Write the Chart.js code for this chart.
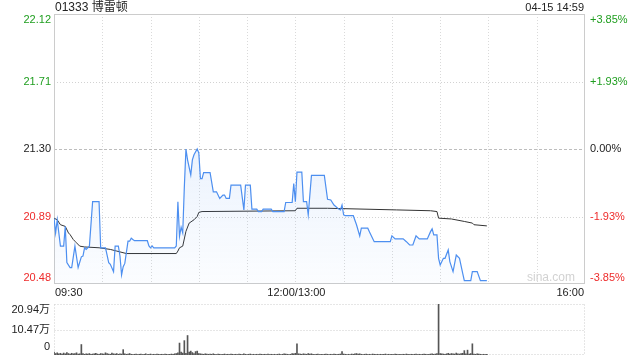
<!DOCTYPE html>
<html><head><meta charset="utf-8">
<script src="https://cdn.jsdelivr.net/npm/chart.js@4.4.1/dist/chart.umd.min.js"></script>
<style>
html,body{margin:0;padding:0;background:#fff;width:640px;height:360px;overflow:hidden}
#w1{position:absolute;left:0;top:0;width:640px;height:300px}
#w2{position:absolute;left:0;top:296px;width:640px;height:64px}
canvas{display:block}
</style></head><body>
<div id="w1"><canvas id="c1" width="640" height="300"></canvas></div>
<div id="w2"><canvas id="c2" width="640" height="64"></canvas></div>
<script>
// ---- texts / ticks ----
const titleText = '01333 博雷顿';
const stampText = '04-15 14:59';
const prevClose = 21.30;
const priceTicks = [22.12, 21.71, 21.30, 20.89, 20.48];
const pctTicks = ['+3.85%', '+1.93%', '0.00%', '-1.93%', '-3.85%'];
const gridMinutes = [0, 30, 60, 90, 120, 150, 180, 210, 240, 270, 300, 330];
const timeLabelMinutes = [0, 150, 330];
const timeLabelTexts = ['09:30', '12:00/13:00', '16:00'];
const volTicks = [209400, 104700, 0];
const volTickLabels = ['20.94万', '10.47万', '0'];

// ---- price series (trading minutes since 09:30; 150 = 13:00) ----
const priceMinutes = [
  0,1,2,4,6,7,8,10,11,13,
  15,17,18,19,20,21,22,24,28,29,
  32,33,34,35,37,38,40,41,42,43,
  44,46,47,48,49,50,58,59,60,61,
  62,75,76,77,78,79,80,81,82,83,
  85,86,87,89,90,91,92,93,97,99,
  101,103,105,106,107,109,110,116,118,119,
  122,123,126,127,129,130,135,136,143,144,
  148,149,150,151,154,155,157,158,160,168,
  170,172,174,177,178,179,180,181,186,188,
  190,191,195,196,199,209,210,212,217,219,
  221,223,225,227,232,234,235,236,238,239,
  240,242,243,245,246,248,250,252,254,255,
  259,260,263,265,269];
const prices = [
  20.88,20.79,20.87,20.71,20.71,20.83,20.61,20.58,20.58,20.71,
  20.58,20.645,20.65,20.70,20.69,20.70,20.71,20.98,20.98,20.70,
  20.70,20.655,20.61,20.60,20.555,20.71,20.71,20.65,20.535,20.585,
  20.605,20.74,20.74,20.758,20.75,20.743,20.743,20.711,20.70,20.711,
  20.70,20.70,20.711,20.98,20.77,20.825,20.79,21.07,21.30,21.234,
  21.143,21.234,21.265,21.30,21.275,21.12,21.12,21.157,21.157,21.04,
  21.04,21.00,21.02,21.02,21.00,21.00,21.08,21.08,20.93,21.08,
  21.08,20.935,20.935,20.92,20.92,20.935,20.935,20.92,20.92,20.975,
  20.975,21.09,20.98,21.16,21.16,20.98,20.98,20.90,21.14,21.14,
  20.995,20.99,20.96,20.935,20.93,20.96,20.90,20.895,20.895,20.84,
  20.772,20.819,20.819,20.798,20.737,20.737,20.772,20.754,20.754,20.737,
  20.717,20.717,20.772,20.754,20.754,20.798,20.815,20.778,20.778,20.636,
  20.596,20.636,20.636,20.687,20.616,20.555,20.656,20.636,20.545,20.50,
  20.50,20.555,20.555,20.50,20.50];

const avgMinutes = [
  0,2,4,7,9,10,12,13,14,16,
  19,28,35,39,41,45,76,77,78,80,
  82,84,87,89,90,92,150,151,170,213,
  234,238,239,247,255,260,261,269];
const avgPrices = [
  20.88,20.87,20.84,20.83,20.79,20.78,20.75,20.74,20.73,20.71,
  20.705,20.70,20.69,20.68,20.675,20.665,20.665,20.68,20.70,20.71,
  20.80,20.85,20.87,20.89,20.915,20.92,20.925,20.94,20.94,20.93,
  20.925,20.92,20.88,20.875,20.86,20.85,20.84,20.833];

// ---- volume per minute (shares), index = trading minute ----
const volumes = [
  12000,6000,9000,5000,7000,4000,8000,5000,10000,6000,
  4000,7000,5000,6000,9000,4000,5000,43000,6000,3000,
  5000,4000,6000,3000,4000,5000,7000,4000,3000,6000,
  5000,4000,9000,6000,4000,3000,8000,5000,4000,6000,
  3000,5000,4000,22000,5000,3000,4000,6000,3000,2000,
  3000,4000,2000,3000,4000,2000,3000,5000,2000,3000,
  4000,2000,3000,2000,4000,3000,2000,3000,2000,4000,
  3000,2000,3000,4000,3000,5000,6000,9000,49000,12000,
  8000,59000,7000,80000,12000,16000,10000,6000,14000,16000,
  6000,5000,4000,3000,5000,4000,3000,4000,3000,5000,
  3000,2000,4000,3000,2000,3000,4000,2000,3000,2000,
  4000,3000,2000,3000,2000,4000,3000,2000,5000,3000,
  2000,3000,4000,2000,3000,2000,3000,2000,4000,3000,
  2000,3000,2000,4000,2000,3000,2000,3000,2000,3000,
  4000,2000,3000,5000,4000,3000,2000,3000,6000,5000,
  7000,46000,5000,4000,3000,5000,4000,3000,6000,4000,
  5000,3000,2000,3000,4000,2000,3000,2000,3000,4000,
  3000,2000,3000,2000,4000,3000,2000,3000,4000,14000,
  4000,3000,2000,3000,2000,4000,3000,5000,6000,4000,
  5000,3000,2000,3000,4000,2000,3000,2000,4000,3000,
  2000,3000,2000,3000,2000,3000,4000,2000,3000,2000,
  3000,2000,4000,3000,2000,3000,2000,3000,2000,4000,
  3000,2000,3000,2000,3000,4000,2000,3000,2000,3000,
  4000,3000,2000,3000,4000,5000,3000,4000,6000,209400,
  6000,5000,4000,3000,5000,7000,4000,6000,5000,4000,
  8000,5000,4000,6000,7000,18000,5000,20000,4000,6000,
  46000,4000,3000,5000,4000,3000,2000,3000,2000,3000];

// ---- styles ----
const FONT = '"Liberation Sans", Arial, "Noto Sans CJK SC", sans-serif';
const GREEN = '#1f9e1f', RED = '#ee2b2b', DARK = '#222222';
const tickColor = v => v > prevClose + 1e-9 ? GREEN : (v < prevClose - 1e-9 ? RED : DARK);

const mainDeco = {
  id: 'mainDeco',
  beforeDatasetsDraw(chart) {
    const {ctx, chartArea: a, scales: {x, y}} = chart;
    ctx.save();
    ctx.lineWidth = 1;
    gridMinutes.forEach(m => {
      if (m <= 0 || m >= 330) return;
      const px = Math.round(x.getPixelForValue(m)) + 0.5;
      ctx.strokeStyle = '#dadada'; ctx.setLineDash([1, 2]);
      ctx.beginPath(); ctx.moveTo(px, a.top); ctx.lineTo(px, a.bottom); ctx.stroke();
    });
    priceTicks.forEach((v, i) => {
      if (i === 0 || i === priceTicks.length - 1) return;
      const py = Math.round(y.getPixelForValue(v)) + 0.5;
      const isBase = Math.abs(v - prevClose) < 1e-9;
      ctx.strokeStyle = isBase ? '#bdbdbd' : '#d2d2d2';
      ctx.setLineDash(isBase ? [3, 2] : [1, 2]);
      ctx.beginPath(); ctx.moveTo(a.left, py); ctx.lineTo(a.right, py); ctx.stroke();
    });
    ctx.setLineDash([]);
    ctx.strokeStyle = '#cccccc';
    ctx.strokeRect(a.left + 0.5, a.top + 0.5, a.width - 1, a.height - 1);
    // watermark
    ctx.fillStyle = '#d2d2d2';
    ctx.font = '12px ' + FONT;
    ctx.textAlign = 'right'; ctx.textBaseline = 'middle';
    ctx.fillText('sina.com', a.right - 10, a.bottom - 6);
    ctx.restore();
  },
  afterDraw(chart) {
    const {ctx, chartArea: a, scales: {x, y}} = chart;
    ctx.save();
    ctx.textBaseline = 'middle';
    ctx.font = '12px ' + FONT;
    ctx.fillStyle = DARK;
    ctx.textAlign = 'left';
    ctx.fillText(titleText, a.left + 1, 7.5);
    ctx.font = '11px ' + FONT;
    ctx.textAlign = 'right';
    ctx.fillText(stampText, a.right - 1, 7.5);
    priceTicks.forEach((v, i) => {
      let py = y.getPixelForValue(v);
      if (i === 0) py += 6; else if (i === priceTicks.length - 1) py -= 6;
      ctx.fillStyle = tickColor(v);
      ctx.textAlign = 'right';
      ctx.fillText(v.toFixed(2), a.left - 3, py);
      ctx.textAlign = 'left';
      ctx.fillText(pctTicks[i], a.right + 5, py);
    });
    ctx.fillStyle = DARK;
    timeLabelMinutes.forEach((m, i) => {
      const px = x.getPixelForValue(m);
      ctx.textAlign = i === 0 ? 'left' : (i === timeLabelMinutes.length - 1 ? 'right' : 'center');
      ctx.fillText(timeLabelTexts[i], i === 0 ? px + 1 : (i === timeLabelMinutes.length - 1 ? px - 1 : px + 1), a.bottom + 8.5);
    });
    ctx.restore();
  }
};

const volDeco = {
  id: 'volDeco',
  beforeDatasetsDraw(chart) {
    const {ctx, chartArea: a, scales: {y}} = chart;
    ctx.save();
    ctx.lineWidth = 1;
    ctx.strokeStyle = '#cccccc';
    ctx.setLineDash([1, 2]);
    const l = a.left + 0.5, r = a.right - 0.5, t = a.top + 0.5, b = a.bottom - 0.5;
    const mid = Math.round(y.getPixelForValue(volTicks[1])) + 0.5;
    [[l, t, r, t], [l, mid, r, mid], [l, b, r, b], [l, t, l, b], [r, t, r, b]].forEach(s => {
      ctx.beginPath(); ctx.moveTo(s[0], s[1]); ctx.lineTo(s[2], s[3]); ctx.stroke();
    });
    ctx.restore();
  },
  afterDraw(chart) {
    const {ctx, chartArea: a, scales: {y}} = chart;
    ctx.save();
    ctx.font = '11px ' + FONT;
    ctx.fillStyle = DARK;
    ctx.textAlign = 'right'; ctx.textBaseline = 'middle';
    volTicks.forEach((v, i) => {
      let py = y.getPixelForValue(v);
      if (i === 0) py += 6; else if (i === volTicks.length - 1) py -= 8;
      ctx.fillText(volTickLabels[i], a.left - 4, py);
    });
    ctx.restore();
  }
};

const pad = {left: 54, right: 55};

new Chart(document.getElementById('c1'), {
  type: 'line',
  data: {
    datasets: [
      {
        data: priceMinutes.map((m, i) => ({x: m, y: prices[i]})),
        borderColor: '#4d8ff0',
        borderWidth: 1.2,
        pointRadius: 0,
        tension: 0,
        fill: 'start',
        backgroundColor: (c) => {
          const a = c.chart.chartArea;
          if (!a) return 'rgba(77,143,240,0.1)';
          const g = c.chart.ctx.createLinearGradient(0, a.top, 0, a.bottom);
          g.addColorStop(0, 'rgba(77,143,240,0.2)');
          g.addColorStop(1, 'rgba(77,143,240,0.02)');
          return g;
        }
      },
      {
        data: avgMinutes.map((m, i) => ({x: m, y: avgPrices[i]})),
        borderColor: '#333333',
        borderWidth: 1,
        pointRadius: 0,
        tension: 0,
        fill: false
      }
    ]
  },
  options: {
    responsive: false, animation: false, devicePixelRatio: 1, events: [],
    layout: {padding: {left: pad.left, right: pad.right, top: 14, bottom: 16}},
    plugins: {legend: {display: false}, tooltip: {enabled: false}},
    scales: {
      x: {type: 'linear', min: 0, max: 330, display: false},
      y: {type: 'linear', min: priceTicks[priceTicks.length - 1], max: priceTicks[0], display: false}
    }
  },
  plugins: [mainDeco]
});

new Chart(document.getElementById('c2'), {
  type: 'bar',
  data: {
    datasets: [{
      data: volumes.map((v, i) => ({x: i, y: v})),
      backgroundColor: '#555555',
      borderWidth: 0,
      barThickness: 1
    }]
  },
  options: {
    responsive: false, animation: false, devicePixelRatio: 1, events: [],
    layout: {padding: {left: pad.left, right: pad.right, top: 8, bottom: 5}},
    plugins: {legend: {display: false}, tooltip: {enabled: false}},
    scales: {
      x: {type: 'linear', min: 0, max: 330, offset: false, display: false},
      y: {type: 'linear', min: 0, max: volTicks[0], display: false}
    }
  },
  plugins: [volDeco]
});
</script>
</body></html>
